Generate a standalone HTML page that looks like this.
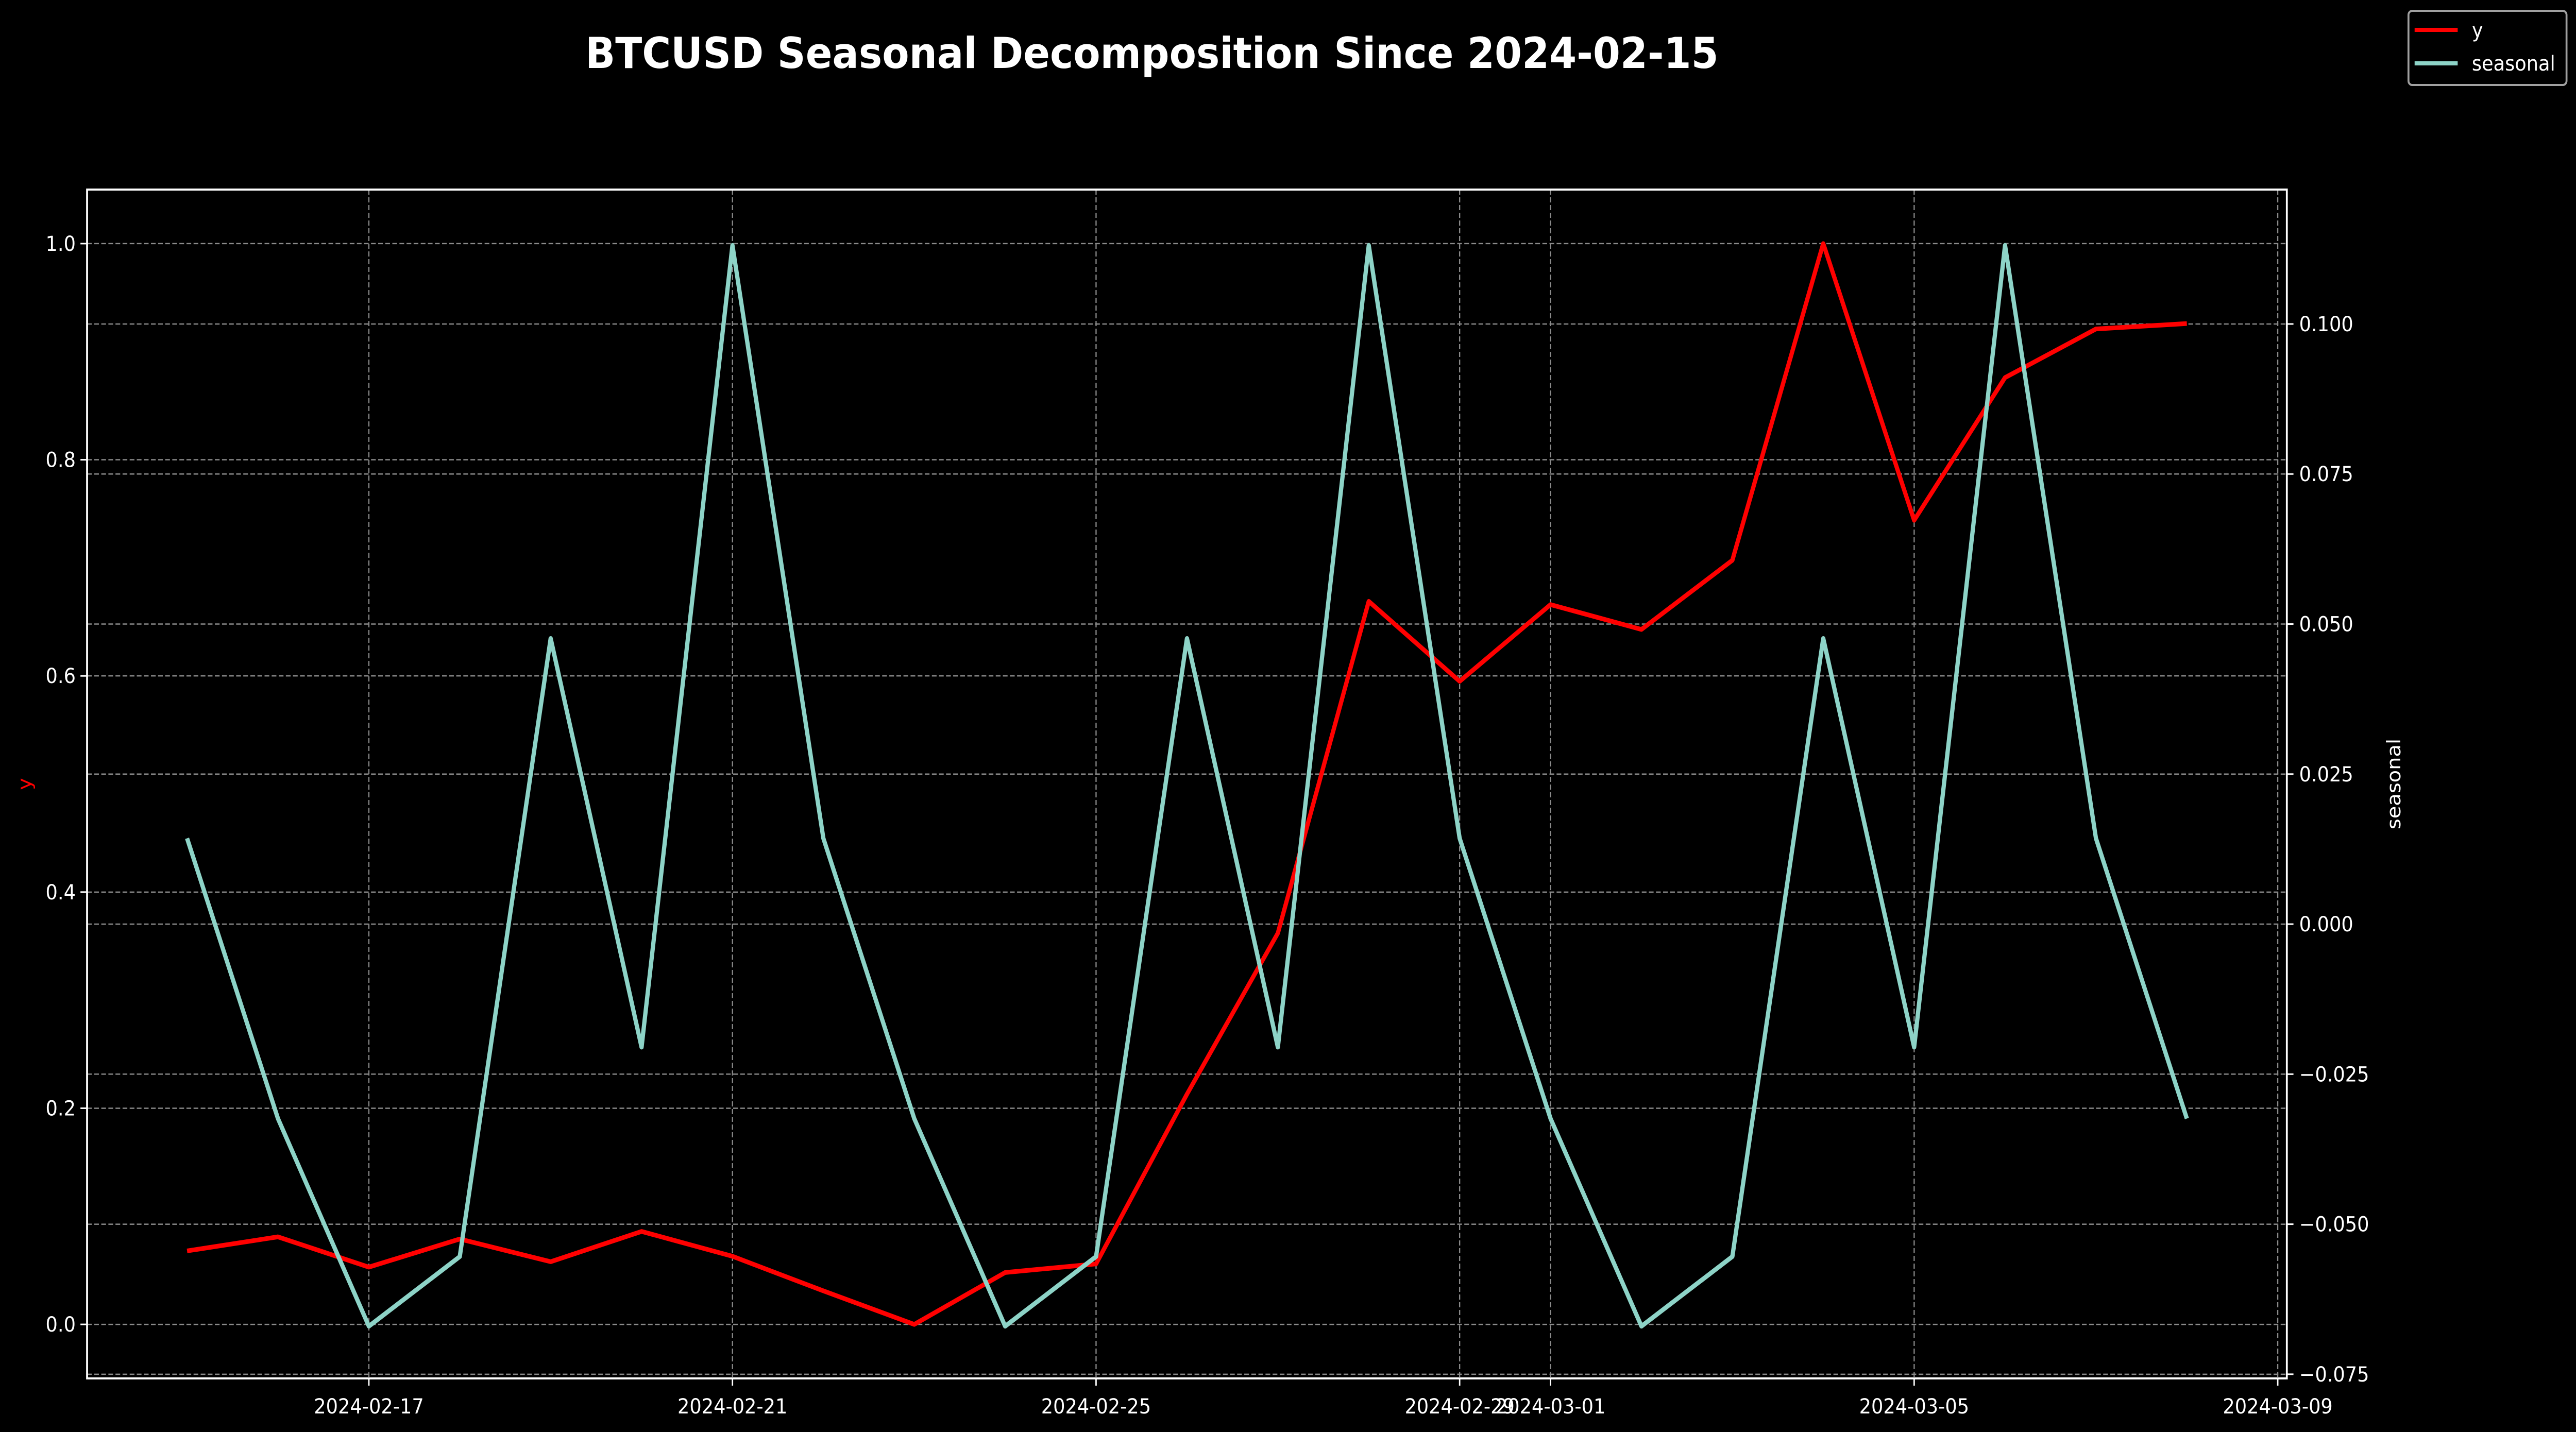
<!DOCTYPE html>
<html><head><meta charset="utf-8"><style>
html,body{margin:0;padding:0;background:#000;width:100%;height:100%;overflow:hidden;}
svg{display:block;width:100vw;height:100vh;}
text{font-family:"DejaVu Sans","Liberation Sans",sans-serif;fill:#fff;}
</style></head><body>
<svg id="chart" viewBox="0 0 5443 2780" preserveAspectRatio="none" xmlns="http://www.w3.org/2000/svg">
<rect x="0" y="0" width="5443" height="2780" fill="#000"/>
<text x="2434" y="132" font-size="83" font-weight="bold" text-anchor="middle">BTCUSD Seasonal Decomposition Since 2024-02-15</text>
<g id="grid"></g>
<g id="series"></g>
<g id="axes"></g>
<text x="0" y="0" font-size="40" fill="#ff0000" style="fill:#ff0000" text-anchor="middle" transform="translate(66,1522) rotate(-90)">y</text>
<text x="0" y="0" font-size="40" text-anchor="middle" transform="translate(5072,1522) rotate(-90)">seasonal</text>
<g>
<rect x="5089" y="21" width="334" height="144" rx="8" fill="#000" stroke="#a0a0a0" stroke-width="4"/>
<line x1="5102" y1="58" x2="5193" y2="58" stroke="#ff0000" stroke-width="8"/>
<text x="5223" y="72" font-size="40">y</text>
<line x1="5102" y1="123" x2="5193" y2="123" stroke="#8dd3c7" stroke-width="8"/>
<text x="5223" y="137" font-size="40">seasonal</text>
</g>
</svg>
<script>
const dayOffsets = [0,1,2,3,4,5,6,7,8,9,10,11,12,13,14,15,16,17,18,19,20,21,22];
const yValues = [0.068,0.081,0.053,0.079,0.058,0.086,0.063,0.031,0.0,0.048,0.056,0.213,0.362,0.669,0.595,0.666,0.643,0.707,1.0,0.744,0.876,0.921,0.926];
const seasonalValues = [0.0143,-0.0324,-0.0670,-0.0554,0.0476,-0.0205,0.1131,0.0143,-0.0324,-0.0670,-0.0554,0.0476,-0.0205,0.1131,0.0143,-0.0324,-0.0670,-0.0554,0.0476,-0.0205,0.1131,0.0143,-0.0324];
const xTickDays = [2,6,10,14,15,19,23];
const xTickLabels = ["2024-02-17","2024-02-21","2024-02-25","2024-02-29","2024-03-01","2024-03-05","2024-03-09"];
const yTicks = [0.0,0.2,0.4,0.6,0.8,1.0];
const yTickLabels = ["0.0","0.2","0.4","0.6","0.8","1.0"];
const sTicks = [-0.075,-0.05,-0.025,0,0.025,0.05,0.075,0.1];
const sTickLabels = ["\u22120.075","\u22120.050","\u22120.025","0.000","0.025","0.050","0.075","0.100"];

const L=184,R=4832,T=368,B=2676;
const xMin=-1.1,xMax=23.1,yMin=-0.05,yMax=1.05,sMin=-0.0757,sMax=0.1224;
const X=d=>L+(d-xMin)/(xMax-xMin)*(R-L);
const Y=v=>B-(v-yMin)/(yMax-yMin)*(B-T);
const S=v=>B-(v-sMin)/(sMax-sMin)*(B-T);
const NS="http://www.w3.org/2000/svg";
function mk(tag,attrs,parent){const e=document.createElementNS(NS,tag);for(const k in attrs)e.setAttribute(k,attrs[k]);parent.appendChild(e);return e;}
const grid=document.getElementById('grid'),series=document.getElementById('series'),axes=document.getElementById('axes');
const gs={stroke:"#8a8a8a","stroke-width":2.5,"stroke-dasharray":"10,5"};

xTickDays.forEach((d,i)=>{
  const x=X(d);
  const g=mk('line',Object.assign({x1:x,y1:T,x2:x,y2:B},gs),grid);
  
  
  const t=mk('line',{x1:x,y1:B,x2:x,y2:B+14,stroke:"#fff","stroke-width":3},axes);
  
  
  const lb=mk('text',{x:x,y:B+68,"font-size":40,"text-anchor":"middle"},axes);
  lb.textContent=xTickLabels[i];
  
  
});
yTicks.forEach((v,i)=>{
  const y=Y(v);
  const g=mk('line',Object.assign({x1:L,y1:y,x2:R,y2:y},gs),grid);
  
  
  const t=mk('line',{x1:L-14,y1:y,x2:L,y2:y,stroke:"#fff","stroke-width":3},axes);
  
  
  const lb=mk('text',{x:L-24,y:y+14,"font-size":40,"text-anchor":"end"},axes);
  lb.textContent=yTickLabels[i];
  
  
});
sTicks.forEach((v,i)=>{
  const y=S(v);
  const g=mk('line',Object.assign({x1:L,y1:y,x2:R,y2:y},gs),grid);
  
  
  const t=mk('line',{x1:R,y1:y,x2:R+14,y2:y,stroke:"#fff","stroke-width":3},axes);
  
  
  const lb=mk('text',{x:R+26,y:y+14,"font-size":40,"text-anchor":"start"},axes);
  lb.textContent=sTickLabels[i];
  
  
});
const fr=mk('rect',{x:L,y:T,width:R-L,height:B-T,fill:"none",stroke:"#fff","stroke-width":4},axes);



const yPts=dayOffsets.map((d,i)=>X(d)+","+Y(yValues[i])).join(" ");
const yl=mk('polyline',{points:yPts,fill:"none",stroke:"#ff0000","stroke-width":9,"stroke-linejoin":"round"},series);


const sPts=dayOffsets.map((d,i)=>X(d)+","+S(seasonalValues[i])).join(" ");
const sl=mk('polyline',{points:sPts,fill:"none",stroke:"#8dd3c7","stroke-width":9,"stroke-linejoin":"round"},series);


</script>
</body></html>
